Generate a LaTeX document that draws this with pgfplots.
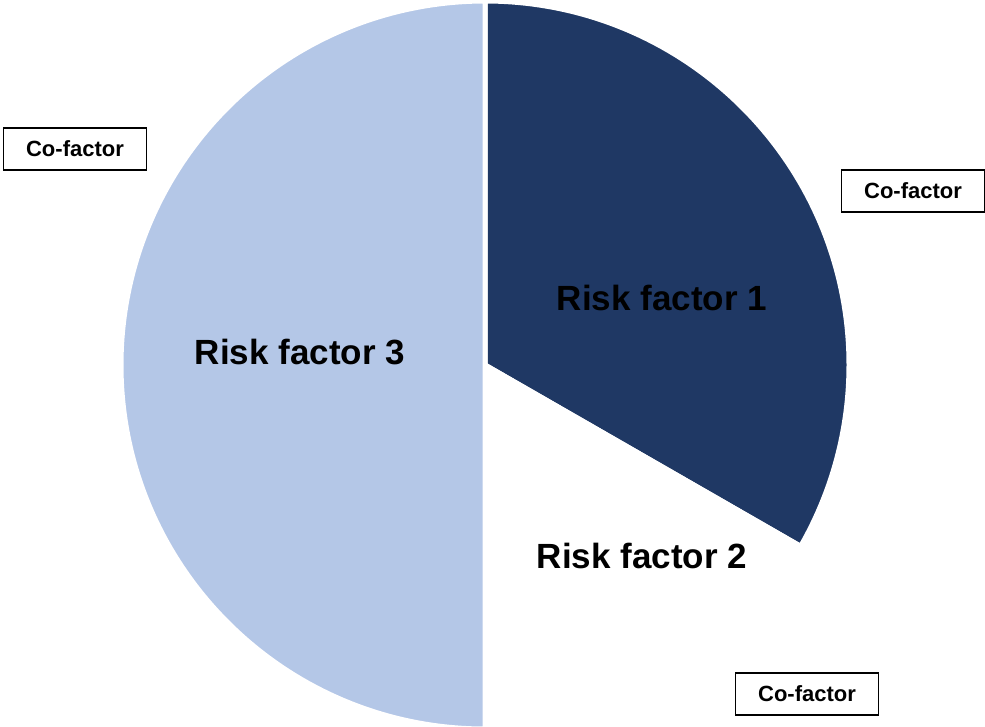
\documentclass[border=0pt]{standalone}
\usepackage{fontspec}
\setmainfont{Liberation Sans}
\usepackage{pgfplots}
\pgfplotsset{compat=1.18}
\definecolor{navy}{RGB}{31,56,100}
\definecolor{lblue}{RGB}{180,199,231}
% slice shares (percent)
\def\vA{33.3}% Risk factor 1
\def\vB{16.7}% Risk factor 2
\def\vC{50.0}% Risk factor 3
\pgfmathsetmacro{\aA}{90}
\pgfmathsetmacro{\aB}{\aA-3.6*\vA}
\pgfmathsetmacro{\aC}{\aB-3.6*\vB}
\pgfmathsetmacro{\aD}{\aC-3.6*\vC}
\begin{document}
\begin{tikzpicture}
\begin{axis}[width=985pt,height=726pt,scale only axis,
  xmin=0,xmax=985,ymin=0,ymax=726,y dir=reverse,
  hide axis,clip=true]
\path (axis cs:0,0) rectangle (axis cs:985,726);
\fill[navy,draw=white,line width=5pt,line join=miter] (axis cs:485,365) -- ++(\aA:364pt) arc[start angle=\aA,end angle=\aB,radius=364pt] -- cycle;
\fill[white,draw=white,line width=5pt,line join=miter] (axis cs:485,365) -- ++(\aB:364pt) arc[start angle=\aB,end angle=\aC,radius=364pt] -- cycle;
\fill[lblue,draw=white,line width=5pt,line join=miter] (axis cs:485,365) -- ++(\aC:364pt) arc[start angle=\aC,end angle=\aD,radius=364pt] -- cycle;
\node[font=\fontsize{35}{40}\selectfont\bfseries] at (axis cs:662,298) {Risk factor 1};
\node[font=\fontsize{35}{40}\selectfont\bfseries] at (axis cs:642,556) {Risk factor 2};
\node[font=\fontsize{35}{40}\selectfont\bfseries] at (axis cs:300,352) {Risk factor 3};
\tikzset{cof/.style={draw=black,line width=1.5pt,fill=white,minimum width=143pt,minimum height=42pt,inner sep=0pt,font=\fontsize{22}{26}\selectfont\bfseries}}
\node[cof] at (axis cs:75,149) {Co-factor};
\node[cof] at (axis cs:913,191) {Co-factor};
\node[cof] at (axis cs:807,694) {Co-factor};
\end{axis}
\end{tikzpicture}
\end{document}
